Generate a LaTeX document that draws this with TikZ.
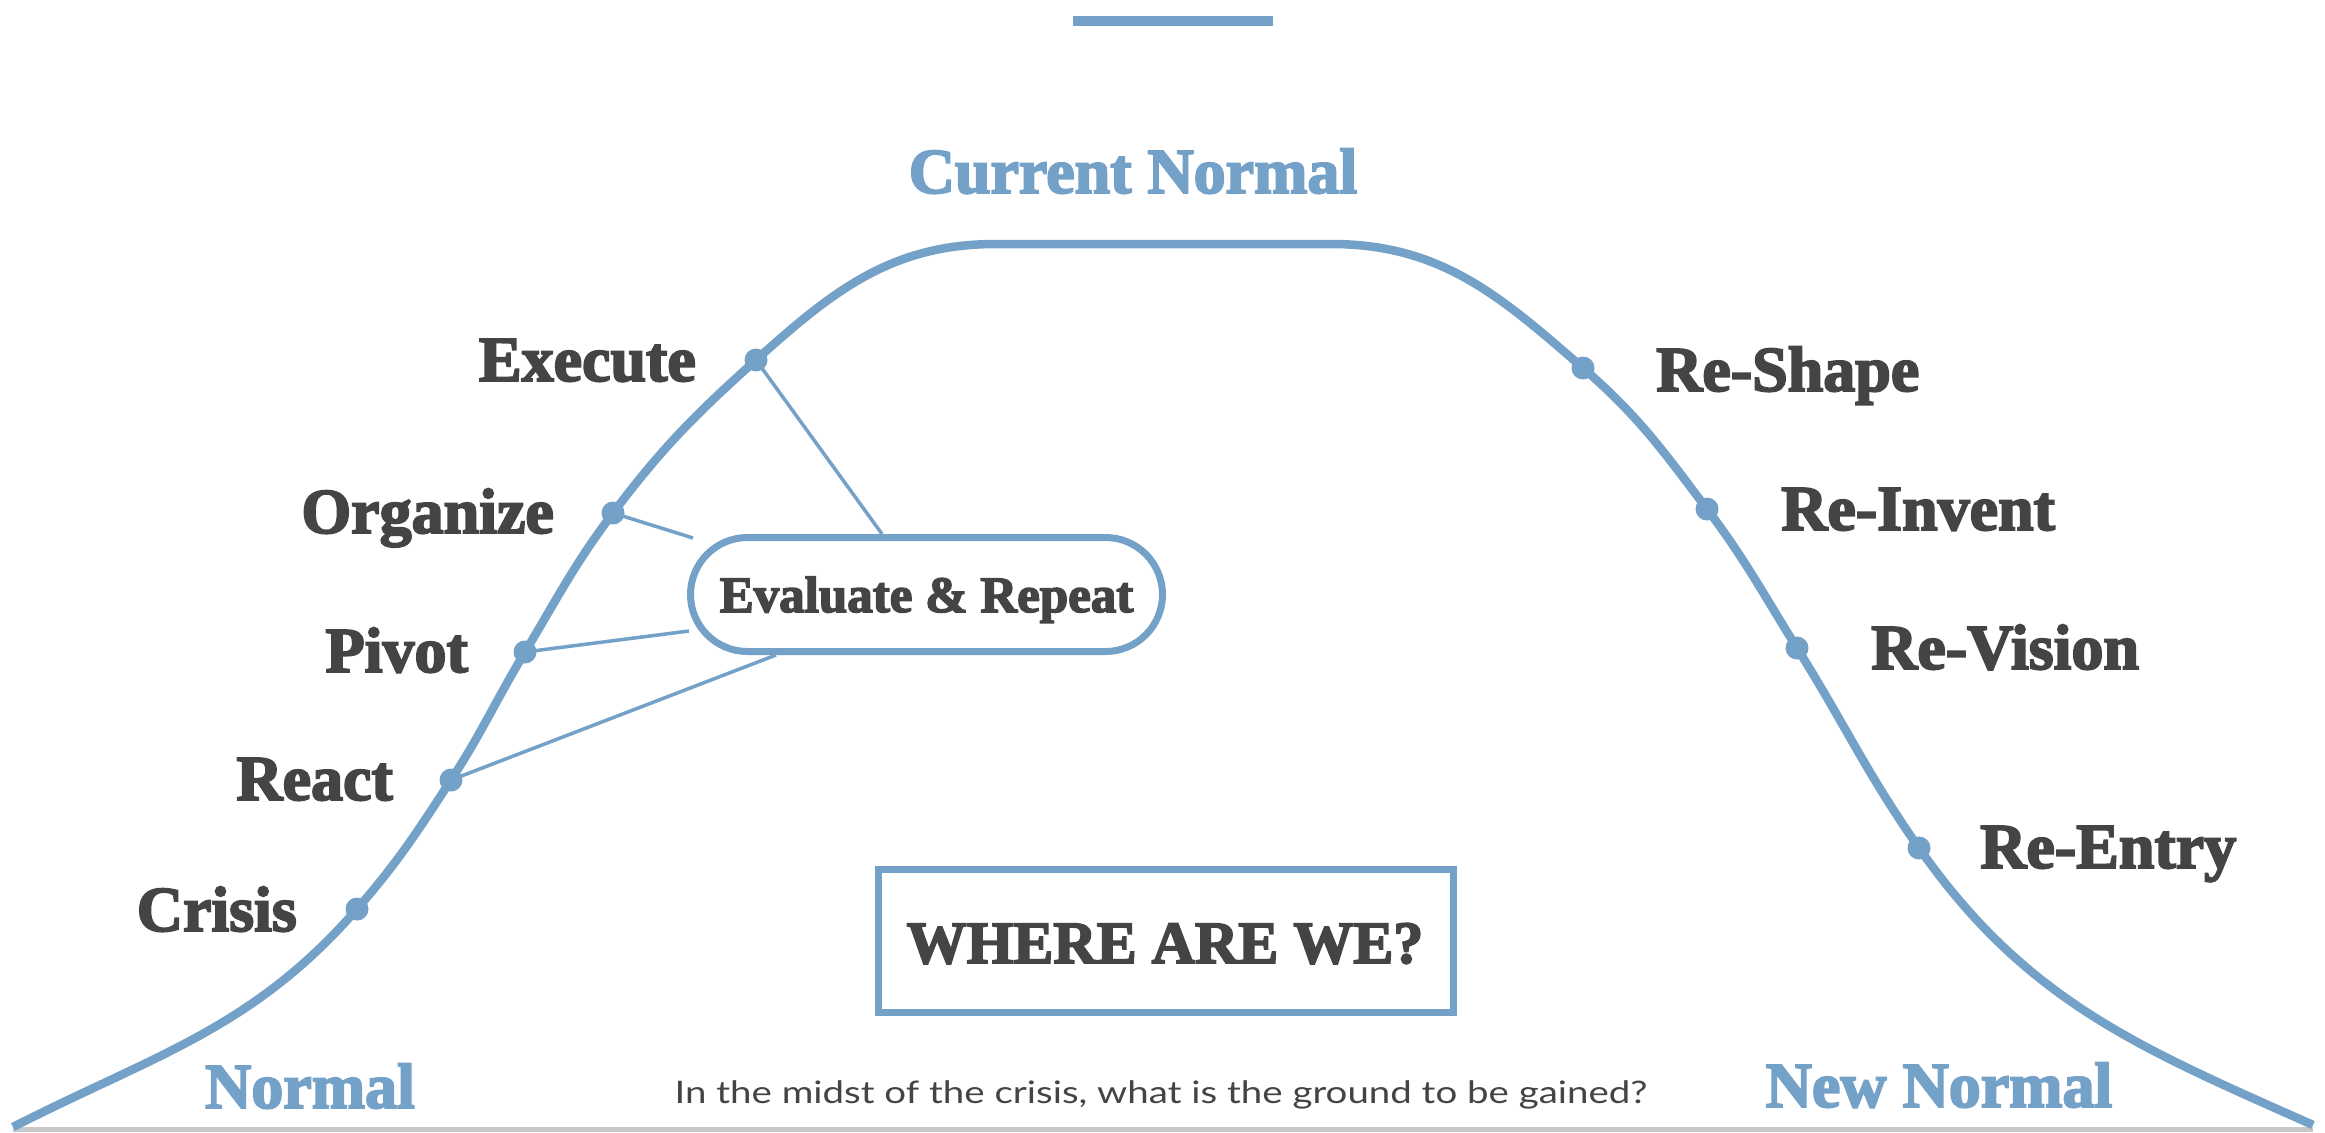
\documentclass[tikz,border=0pt]{standalone}
\usepackage{fontspec}
\usepackage{graphicx}
\setmainfont{Liberation Serif}[BoldFeatures={FakeBold=3}]
\newfontfamily\sansfam{Lato}
\definecolor{cblue}{RGB}{116,161,200}
\definecolor{ctext}{RGB}{68,68,68}
\definecolor{cgray}{RGB}{200,200,200}
\begin{document}
\begin{tikzpicture}[x=1pt,y=-1pt,
  curve/.style={draw=cblue, line width=8.5pt},
  conn/.style={draw=cblue, line width=3.5pt},
  dotnode/.style={circle, fill=cblue, inner sep=0pt, minimum size=23pt},
  lbl/.style={text=ctext, font=\fontsize{64}{70}\selectfont\bfseries, inner sep=0pt},
  lblL/.style={lbl, anchor=base east},
  lblR/.style={lbl, anchor=base west},
  ttl/.style={text=cblue, font=\fontsize{64}{70}\selectfont\bfseries, inner sep=0pt, anchor=base},
  evalbox/.style={draw=cblue, line width=7pt, fill=white, rounded corners=57pt,
    minimum width=472pt, minimum height=114pt, inner sep=0pt},
  wherebox/.style={draw=cblue, line width=7pt, fill=white,
    minimum width=575pt, minimum height=143pt, inner sep=0pt},
  boxtext/.style={text=ctext, inner sep=0pt, anchor=base}
]
\useasboundingbox (0,0) rectangle (2325,1132);
\fill[white] (0,0) rectangle (2325,1132);

% decorative top bar and ground line
\fill[cblue] (1073,16) rectangle (1273,26);
\fill[cgray] (13,1127) rectangle (2313,1132);

% main curve
\draw[curve] (13,1127) to[out=27,in=229] (357,909)
  to[out=49,in=237] (451,780)
  to[out=57,in=239] (525,652)
  to[out=59,in=233] (613,513)
  to[out=53,in=222] (756,360)
  to[out=42,in=180] (996,244)
  -- (1331,244)
  to[out=0,in=139] (1583,368)
  to[out=-41,in=127] (1707,509)
  to[out=-53,in=122] (1797,648)
  to[out=-58,in=125] (1919,848)
  to[out=-55,in=156] (2313,1125);

% free ends of connectors
\coordinate (eExe) at (882,534);
\coordinate (eOrg) at (693,538);
\coordinate (ePiv) at (689,631);
\coordinate (eRea) at (776,655);

% dots on the curve
\node[dotnode] (crisis) at (357,909) {};
\node[dotnode] (react) at (451,780) {};
\node[dotnode] (pivot) at (525,652) {};
\node[dotnode] (organize) at (613,513) {};
\node[dotnode] (execute) at (756,360) {};
\node[dotnode] (reshape) at (1583,368) {};
\node[dotnode] (reinvent) at (1707,509) {};
\node[dotnode] (revision) at (1797,648) {};
\node[dotnode] (reentry) at (1919,848) {};

% connectors
\draw[conn] (execute.center) -- (eExe);
\draw[conn] (organize.center) -- (eOrg);
\draw[conn] (pivot.center) -- (ePiv);
\draw[conn] (react.center) -- (eRea);

% evaluate box
\node[evalbox] (evalb) at (926.5,594.5) {};
\node[boxtext, font=\fontsize{51}{56}\selectfont\bfseries] (evalt) at (926.5,612) {Evaluate \& Repeat};

% where box
\node[wherebox] (whereb) at (1166,941) {};
\node[boxtext, font=\fontsize{60}{66}\selectfont\bfseries] (wheret) at (1165,963) {WHERE ARE WE?};

% labels left
\node[lblL] (lexecute) at (696,381) {Execute};
\node[lblL] (lorganize) at (554,533) {Organize};
\node[lblL] (lpivot) at (468,672) {Pivot};
\node[lblL] (lreact) at (393,800) {React};
\node[lblL] (lcrisis) at (297,931) {Crisis};

% labels right
\node[lblR] (lreshape) at (1656,391) {Re-Shape};
\node[lblR] (lreinvent) at (1781,530) {Re-Invent};
\node[lblR] (lrevision) at (1871,669) {Re-Vision};
\node[lblR] (lreentry) at (1980,868) {Re-Entry};

% titles
\node[ttl] (current) at (1133,193) {Current Normal};
\node[ttl] (normal) at (310,1108) {Normal};
\node[ttl] (newnormal) at (1939,1107) {New Normal};

% bottom question
\node[text=ctext, inner sep=0pt, anchor=base, font=\sansfam\fontsize{31}{36}\selectfont] (question) at (1161,1103) {\scalebox{1.24}[1]{In the midst of the crisis, what is the ground to be gained?}};
\end{tikzpicture}
\end{document}
